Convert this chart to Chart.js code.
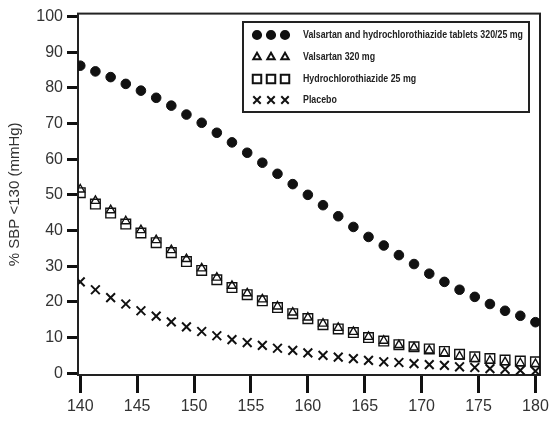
<!DOCTYPE html>
<html>
<head>
<meta charset="utf-8">
<script src="https://cdn.jsdelivr.net/npm/chart.js@4.4.0/dist/chart.umd.min.js"></script>
<style>
  body { margin: 0; background: #fff; }
</style>
</head>
<body>
<canvas id="grafica" width="553" height="421"></canvas>
<script>
// Datos
const pas = [140, 141.33, 142.67, 144, 145.33, 146.67, 148, 149.33, 150.67, 152, 153.33, 154.67, 156, 157.33, 158.67, 160,
  161.33, 162.67, 164, 165.33, 166.67, 168, 169.33, 170.67, 172, 173.33, 174.67, 176, 177.33, 178.67, 180];

const combinacion = [86.2, 84.6, 83.0, 81.1, 79.2, 77.2, 75.0, 72.5, 70.2, 67.4, 64.7, 61.8, 59.0, 55.9, 53.0, 50.0,
  47.1, 44.0, 41.0, 38.2, 35.8, 33.1, 30.6, 27.9, 25.6, 23.4, 21.4, 19.4, 17.5, 16.1, 14.3];
const valsartan = [51.5, 48.3, 45.7, 42.6, 40.1, 37.3, 34.5, 32.0, 29.4, 26.8, 24.5, 22.4, 20.7, 18.7, 17.0, 15.6,
  13.9, 12.7, 11.6, 10.2, 9.1, 7.9, 7.2, 6.4, 5.6, 4.7, 4.0, 3.5, 3.1, 2.8, 2.6];
const hidroclorotiazida = [50.6, 47.4, 44.9, 41.8, 39.3, 36.6, 33.8, 31.3, 28.8, 26.2, 24.0, 22.0, 20.3, 18.4, 16.7, 15.3,
  13.6, 12.4, 11.4, 10.0, 9.0, 8.0, 7.4, 6.8, 6.1, 5.3, 4.6, 4.1, 3.7, 3.4, 3.2];
const placebo = [25.6, 23.4, 21.2, 19.4, 17.5, 16.0, 14.4, 13.0, 11.7, 10.5, 9.4, 8.6, 7.8, 7.0, 6.4, 5.7,
  5.0, 4.5, 4.1, 3.6, 3.2, 3.0, 2.7, 2.4, 2.2, 1.8, 1.6, 1.3, 1.1, 0.8, 0.6];

const etiquetas = ['Valsartan and hydrochlorothiazide tablets 320/25 mg', 'Valsartan 320 mg', 'Hydrochlorothiazide 25 mg', 'Placebo'];
const ticksX = [140, 145, 150, 155, 160, 165, 170, 175, 180];
const ticksY = [0, 10, 20, 30, 40, 50, 60, 70, 80, 90, 100];

const puntos = (valores) => valores.map((v, i) => ({ x: pas[i], y: v }));

const estilos = [
  { pointStyle: 'circle', radius: 4.8, fill: '#111', width: 1 },
  { pointStyle: 'triangle', radius: 5, fill: 'rgba(0,0,0,0)', width: 1.4 },
  { pointStyle: 'rect', radius: 6.8, fill: 'rgba(0,0,0,0)', width: 1.4 },
  { pointStyle: 'crossRot', radius: 6.2, fill: 'rgba(0,0,0,0)', width: 2 }
];
const series = [combinacion, valsartan, hidroclorotiazida, placebo];

// Marco alrededor del area del grafico
const marco = {
  id: 'marco',
  beforeDatasetsDraw(chart) {
    const { ctx, chartArea: a } = chart;
    ctx.save();
    ctx.strokeStyle = '#222';
    ctx.lineWidth = 2;
    ctx.strokeRect(a.left, a.top, a.right - a.left, a.bottom - a.top);
    ctx.restore();
  }
};

// Leyenda dibujada dentro del grafico
const leyenda = {
  id: 'leyenda',
  afterDatasetsDraw(chart) {
    const ctx = chart.ctx;
    ctx.save();
    ctx.fillStyle = '#fff';
    ctx.fillRect(243, 22, 286, 90);
    ctx.strokeStyle = '#222';
    ctx.lineWidth = 2;
    ctx.strokeRect(243, 22, 286, 90);

    ctx.font = 'bold 11px "Liberation Sans", Arial, sans-serif';
    const k = 220 / ctx.measureText(etiquetas[0]).width;
    const filas = [35, 57, 79, 100];
    chart.data.datasets.forEach((ds, i) => {
      const y = filas[i];
      ctx.fillStyle = ds.backgroundColor;
      ctx.strokeStyle = '#111';
      [257, 271, 285].forEach(x => {
        Chart.helpers.drawPoint(ctx, {
          pointStyle: ds.pointStyle,
          radius: ds.pointStyle === 'rect' ? 6 : ds.pointRadius * 0.85,
          rotation: 0,
          borderWidth: ds.borderWidth
        }, x, y);
      });
      ctx.save();
      ctx.fillStyle = '#222';
      ctx.textBaseline = 'middle';
      ctx.translate(303, y);
      ctx.scale(k, 1);
      ctx.fillText(ds.label, 0, 0);
      ctx.restore();
    });
    ctx.restore();
  }
};

new Chart(document.getElementById('grafica'), {
  type: 'scatter',
  data: {
    datasets: series.map((s, i) => ({
      label: etiquetas[i],
      data: puntos(s),
      showLine: false,
      pointStyle: estilos[i].pointStyle,
      pointRadius: estilos[i].radius,
      pointHoverRadius: estilos[i].radius,
      backgroundColor: estilos[i].fill,
      borderColor: '#111',
      borderWidth: estilos[i].width
    }))
  },
  options: {
    responsive: false,
    animation: false,
    layout: { padding: { top: 10, right: 13, left: 0, bottom: 0 } },
    plugins: { legend: { display: false }, tooltip: { enabled: false } },
    scales: {
      x: {
        type: 'linear',
        min: 139.8,
        max: 180.4,
        afterBuildTicks: (s) => { s.ticks = ticksX.map(v => ({ value: v })); },
        afterFit: (s) => { s.height = 46; },
        ticks: { color: '#333', font: { size: 16, family: 'Liberation Sans, Arial, sans-serif' }, padding: 4, maxRotation: 0, autoSkip: false },
        grid: { drawOnChartArea: false, drawTicks: true, tickLength: 18, tickWidth: 3, tickColor: '#111' },
        border: { display: true, color: '#222', width: 2 }
      },
      y: {
        min: -0.5,
        max: 100.8,
        afterBuildTicks: (s) => { s.ticks = ticksY.map(v => ({ value: v })); },
        afterFit: (s) => { s.width = 78; },
        ticks: { color: '#333', font: { size: 16, family: 'Liberation Sans, Arial, sans-serif' }, padding: 4 },
        grid: { drawOnChartArea: false, drawTicks: true, tickLength: 11, tickWidth: 3, tickColor: '#111' },
        border: { display: true, color: '#222', width: 2 },
        title: {
          display: true,
          text: '% SBP <130 (mmHg)',
          color: '#333',
          font: { size: 15, family: 'Liberation Sans, Arial, sans-serif' },
          padding: { top: 6, bottom: 0 }
        }
      }
    }
  },
  plugins: [marco, leyenda]
});
</script>
</body>
</html>
